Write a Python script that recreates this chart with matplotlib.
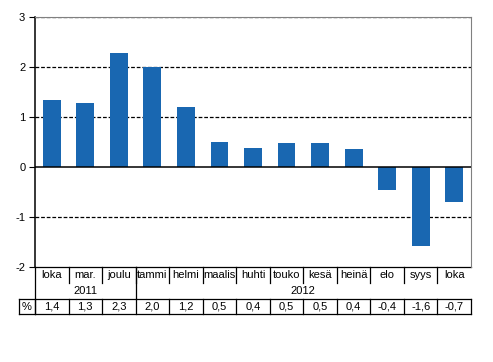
import matplotlib.pyplot as plt
import matplotlib.transforms as mtransforms
import numpy as np

plt.rcParams['font.family'] = ['Liberation Sans', 'DejaVu Sans']
plt.rcParams['axes.unicode_minus'] = False

months = ['loka', 'mar.', 'joulu', 'tammi', 'helmi', 'maalis', 'huhti',
          'touko', 'kesä', 'heinä', 'elo', 'syys', 'loka']
values = [1.35, 1.29, 2.29, 2.01, 1.21, 0.51, 0.39, 0.49, 0.49, 0.37,
          -0.45, -1.58, -0.69]
table_values = ['1,4', '1,3', '2,3', '2,0', '1,2', '0,5', '0,4', '0,5',
                '0,5', '0,4', '-0,4', '-1,6', '-0,7']
years = ['2011', '2012']
year_counts = [3, 10]

bar_color = '#1967b1'
fs = 8

fig = plt.figure(figsize=(4.93, 3.62), dpi=100)
ax = fig.add_axes([35 / 493, 1 - 267 / 362, 436 / 493, 250 / 362])

n = len(values)
x = np.arange(n)
ax.bar(x, values, width=0.53, color=bar_color, zorder=3)
ax.set_xlim(-0.5, n - 0.5)
ax.set_ylim(-2, 3)

for yv in [3, 2, 1, -1]:
    ax.axhline(yv, color='black', lw=0.9, ls=(0, (3, 1.5)), zorder=1)
ax.axhline(0, color='black', lw=1.1, zorder=4)

ax.set_yticks([-2, -1, 0, 1, 2, 3])
ax.set_yticklabels(['-2', '-1', '0', '1', '2', '3'], fontsize=fs)
ax.tick_params(axis='y', length=4, width=0.8, pad=3)
ax.set_xticks([])

ax.spines['left'].set_color('black')
ax.spines['left'].set_linewidth(1.1)
ax.spines['top'].set_color('#808080')
ax.spines['right'].set_color('#808080')
ax.spines['bottom'].set_visible(False)

# table below the plot: x in data units, y in axes fraction
tr = mtransforms.blended_transform_factory(ax.transData, ax.transAxes)
row_year = -0.128
row_bot = -0.188
pct_left = -0.5 - 16 / 436 * n

def line(xs, ys, **kw):
    ax.plot(xs, ys, transform=tr, clip_on=False, color='black', lw=0.9, **kw)

# top line of table
line([-0.5, n - 0.5], [0, 0])
# left spine extends down through label/year rows
line([-0.5, -0.5], [0, row_bot])
# month separators in label row
for i in range(1, n):
    line([i - 0.5, i - 0.5], [0, -0.064])
# year separator
line([2.5, 2.5], [0, row_year])
# percent row borders
line([pct_left, n - 0.5], [row_year, row_year])
line([pct_left, n - 0.5], [row_bot, row_bot])
line([pct_left, pct_left], [row_year, row_bot])
line([n - 0.5, n - 0.5], [row_year, row_bot])
for i in range(0, n):
    line([i - 0.5, i - 0.5], [row_year, row_bot])

for i, m in enumerate(months):
    ax.text(i, -0.034, m, transform=tr, ha='center', va='center', fontsize=fs)
    ax.text(i, -0.158, table_values[i], transform=tr, ha='center', va='center',
            fontsize=fs)

start = 0
for yr, cnt in zip(years, year_counts):
    ax.text(start + (cnt - 1) / 2, -0.096, yr, transform=tr, ha='center',
            va='center', fontsize=fs)
    start += cnt

ax.text((pct_left - 0.5) / 2, -0.158, '%', transform=tr, ha='center',
        va='center', fontsize=fs)

fig.savefig('out.png', dpi=100)
